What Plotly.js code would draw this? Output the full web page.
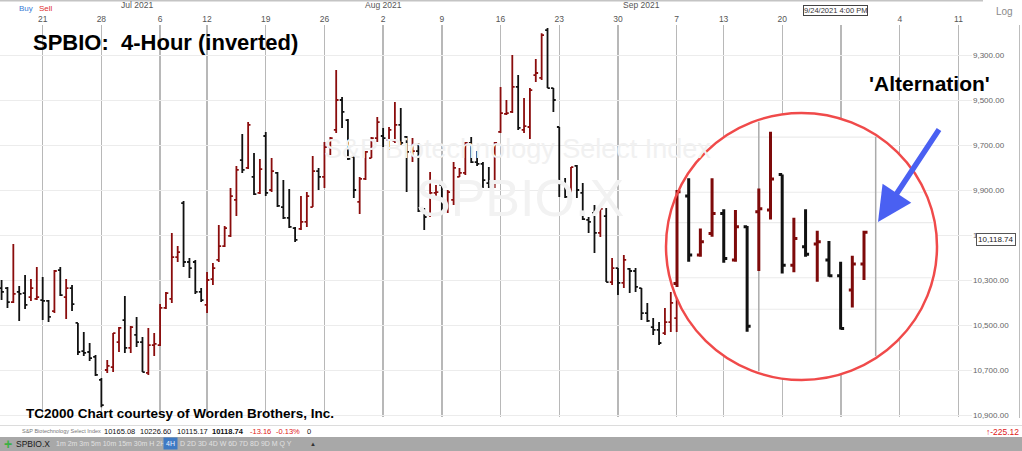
<!DOCTYPE html>
<html><head><meta charset="utf-8">
<script src="https://cdn.plot.ly/plotly-3.0.1.min.js"></script>
<style>html,body{margin:0;padding:0;background:#fff;}#chart{width:1022px;height:451px;}</style>
</head><body><div id="chart"></div>
<script>
// ---------------- data (inverted SPBIO, 4-hour bars) ----------------
// bar index 0 = first 4-hour bar of the week of Jun 21, 2021
const firstBarIndex = -7;
const mainOpen = [10336,10336,10398,10353,10358,10376,10384,10389,10393,10438,10256,10376,10336,10491,10616,10620,10642,10744,10700,10687,10576,10478,10602,10544,10576,10713,10589,10589,10424,10384,10198,9958,10220,10220,10353,10411,10296,10211,10149,10104,9944,9767,9802,9842,9913,9660,9900,9824,9976,10024,10069,10073,10042,9976,9816,9842,9709,9633,9500,9589,9753,9953,9851,9758,9669,9660,9678,9682,9611,9664,9731,9727,9989,10011,9913,9878,9953,9944,9842,9824,9691,9776,9784,9869,9887,9642,9562,9553,9442,9633,9620,9389,9402,9189,9447,9620,9873,9931,9793,9913,10033,10002,10091,10016,10309,10247,10313,10251,10260,10336,10447,10509,10522,10536,10487,10469];
const mainHigh = [10389,10424,10402,10482,10429,10393,10389,10478,10487,10447,10371,10473,10438,10633,10638,10660,10727,10865,10713,10709,10620,10624,10624,10598,10709,10722,10638,10593,10429,10402,10220,10242,10291,10362,10398,10447,10322,10220,10153,10109,10016,9824,9807,9922,9918,9927,9909,9976,10029,10069,10131,10078,10064,9976,9900,9891,9744,9647,9624,9767,9936,10007,9856,9758,9687,9709,9722,9691,9700,9909,9776,9998,10078,10020,9931,10011,10002,9967,9842,9833,9780,9793,9891,9891,9891,9647,9567,9558,9633,9647,9673,9420,9411,9447,9553,9931,9936,9936,9936,10033,10091,10180,10109,10309,10322,10367,10336,10358,10353,10478,10487,10544,10589,10544,10531,10531];
const mainLow = [10300,10331,10140,10327,10278,10296,10242,10287,10389,10256,10242,10296,10322,10491,10531,10580,10633,10736,10656,10536,10509,10371,10504,10464,10553,10513,10536,10407,10353,10091,10149,9949,10202,10211,10336,10264,10224,10056,10060,9891,9793,9651,9598,9736,9762,9642,9758,9820,9856,9896,10064,9927,9909,9749,9802,9687,9664,9367,9487,9584,9744,9842,9727,9664,9576,9624,9620,9509,9536,9660,9669,9691,9980,9820,9878,9864,9900,9776,9802,9687,9664,9727,9776,9798,9687,9442,9500,9300,9389,9491,9447,9318,9203,9180,9447,9620,9847,9798,9789,9869,10020,9967,9980,9980,10202,10247,10189,10247,10247,10336,10402,10469,10487,10424,10353,10353];
const mainClose = [10353,10398,10362,10362,10411,10336,10376,10393,10464,10260,10367,10336,10407,10620,10624,10647,10722,10856,10682,10536,10513,10602,10509,10576,10709,10589,10584,10424,10358,10198,10176,10220,10247,10353,10389,10300,10247,10149,10069,9927,9811,9811,9611,9918,9807,9913,9816,9971,10024,10064,10122,10042,9927,9816,9842,9709,9669,9500,9553,9762,9900,9851,9731,9669,9598,9669,9633,9611,9691,9731,9727,9993,10020,9913,9909,9953,9909,9802,9824,9691,9776,9784,9856,9887,9691,9558,9558,9442,9624,9616,9456,9380,9212,9447,9500,9873,9931,9798,9900,10029,10042,10091,9984,10309,10247,10313,10211,10260,10331,10447,10482,10522,10580,10487,10402,10389];

// magnified last bars shown inside the circle
const insetOpen  = [10316,9927,10189,10093,10004,10211,10063,9997,9989,9831,10234,10152,10140,10211,10281,10344,10229];
const insetHigh  = [10331,10219,10197,10108,10223,10219,10530,10260,10031,10271,10266,10197,10308,10285,10520,10422,10300];
const insetLow   = [9900,9848,10071,9848,9985,9989,10060,9893,9641,9831,10023,9985,10081,10127,10219,10192,10081];
const insetClose = [9908,10189,10130,10004,10204,10063,10505,9983,9851,10234,10115,10185,10130,10281,10515,10229,10088];
const insetWeekBars = [8, 18];
const insetGridPrices = [9665, 9910, 10045, 10290, 10430];

const weekTickIdx  = [0,10,20,28,38,48,58,68,78,88,98,108,116,126,136,146,156];
const weekTickText = ['21','28','6','12','19','26','2','9','16','23','30','7','13','20','','4','11'];
const monthIdx  = [16, 58, 102];
const monthText = ['Jul 2021','Aug 2021','Sep 2021'];
const priceTicks = [9300,9500,9700,9900,10100,10300,10500,10700,10900];
const lastPrice = 10118.74;
const lastBarIdx = 135;
const lastBarLabel = '9/24/2021 4:00 PM';
const statusName = 'S&amp;P Biotechnology Select Index';
const statusValues = ['10165.08','10226.60','10115.17','10118.74'];
const statusChange = ['-13.16','-0.13%'];
const tfBefore = '1m 2m 3m 5m 10m 15m 30m H 2H';
const tfActive = '4H';
const tfAfter = 'D 2D 3D 4D W 6D 7D 8D 9D M Q Y';
const netChange = '-225.12';

// ---------------- layout helpers (pixel geometry) ----------------
const PW = 972, PT = 25, PH = 392;
const X = px => px / PW;
const Y = py => (PT + PH - py) / PH;
const V = py => 9300 + (py - 55) * 200 / 45;
const K = px => 1 + (px - 677) / 11.6875;
const cx = 801.5, cy = 246.5, rx = 135.5, ry = 133.5;
const FONT = '"Liberation Sans", Arial, sans-serif';

const mainX = mainOpen.map((_, i) => i + firstBarIndex);
const insetX = insetOpen.map((_, i) => i + 1);

const traces = [
  {type:'ohlc', x: mainX, open: mainOpen, high: mainHigh, low: mainLow, close: mainClose,
   xaxis:'x', yaxis:'y', tickwidth:0.4, hoverinfo:'skip',
   increasing:{line:{color:'#111111', width:1.8}}, decreasing:{line:{color:'#8a0c0c', width:1.8}}},
  {type:'ohlc', x: insetX, open: insetOpen, high: insetHigh, low: insetLow, close: insetClose,
   xaxis:'x2', yaxis:'y2', tickwidth:0.3, hoverinfo:'skip',
   increasing:{line:{color:'#111111', width:3}}, decreasing:{line:{color:'#7e0a0a', width:3}}}
];

const shapes = [];
shapes.push({type:'circle', xref:'x2', yref:'y2', layer:'below',
  x0:K(cx-rx), x1:K(cx+rx), y0:V(cy-ry), y1:V(cy+ry), fillcolor:'#ffffff', line:{width:0}});
insetGridPrices.forEach(p => {
  const py = 55 + (p - 9300) * 45 / 200;
  const dx = rx * Math.sqrt(Math.max(0, 1 - ((py - cy) / ry) ** 2));
  shapes.push({type:'line', xref:'x2', yref:'y2', layer:'below', x0:K(cx-dx+2), x1:K(cx+dx-2), y0:p, y1:p,
    line:{color:'#ebebeb', width:1.2}});
});
insetWeekBars.forEach(k => {
  const px = 677 + (k - 1) * 11.6875;
  const dy = ry * Math.sqrt(Math.max(0, 1 - ((px - cx) / rx) ** 2));
  shapes.push({type:'line', xref:'x2', yref:'y2', layer:'below', x0:k, x1:k, y0:V(cy-dy+2), y1:V(cy+dy-2),
    line:{color:'#ababab', width:1.5}});
});
shapes.push({type:'circle', xref:'x2', yref:'y2', layer:'above',
  x0:K(cx-rx), x1:K(cx+rx), y0:V(cy-ry), y1:V(cy+ry), line:{color:'#f04a4a', width:2.5}});
shapes.push({type:'line', xref:'paper', yref:'paper', x0:X(0), x1:X(983), y0:Y(0.8), y1:Y(0.8), line:{color:'#c4c4c4', width:1.5}});
shapes.push({type:'line', xref:'paper', yref:'paper', x0:X(1019.5), x1:X(1019.5), y0:Y(25), y1:Y(418), line:{color:'#bdbdbd', width:1}});
shapes.push({type:'line', xref:'paper', yref:'paper', x0:X(0), x1:X(1022), y0:Y(425.5), y1:Y(425.5), line:{color:'#dcdcdc', width:1}});
shapes.push({type:'rect', xref:'paper', yref:'paper', x0:X(0), x1:X(1022), y0:Y(437), y1:Y(451), fillcolor:'#a8a8a8', line:{width:0}});

const ann = [];
const A = (o) => ann.push(Object.assign({xref:'paper', yref:'paper', showarrow:false, xanchor:'center', yanchor:'middle', font:{family:FONT}}, o));
// watermark
A({x:X(517), y:Y(149), text:'S&amp;P Biotechnology Select Index', font:{family:FONT, size:27, color:'#f1f1f1'}});
A({x:X(520), y:Y(198), text:'SPBIO.X', font:{family:FONT, size:52, color:'#f2f2f2'}});
// titles
A({x:X(31), y:Y(42), xanchor:'left', text:'<b>SPBIO:\u00a0 4-Hour (inverted)</b>', font:{family:FONT, size:22, color:'#000'}});
A({x:X(867), y:Y(84), xanchor:'left', text:"<b>'Alternation'</b>", font:{family:FONT, size:21, color:'#000'}});
A({x:X(24), y:Y(413), xanchor:'left', text:'<b>TC2000 Chart courtesy of Worden Brothers, Inc.</b>', font:{family:FONT, size:13.5, color:'#000'}});
// arrow
A({x:X(878), y:Y(222), ax:62, ay:-94, text:'', showarrow:true, arrowhead:2, arrowsize:1.25, arrowwidth:5.5, arrowcolor:'#4a60f2'});
// months
monthIdx.forEach((m, i) => ann.push({xref:'x', yref:'paper', x:m, y:Y(5), xanchor:'center', yanchor:'middle',
  text:monthText[i], showarrow:false, font:{family:FONT, size:8.5, color:'#555'}}));
// last bar date box
ann.push({xref:'x', yref:'paper', x:lastBarIdx, y:Y(10), xanchor:'center', yanchor:'middle', text:lastBarLabel,
  showarrow:false, bgcolor:'#fff', bordercolor:'#444', borderwidth:1, borderpad:0, font:{family:FONT, size:7.5, color:'#333'}});
// last price box
ann.push({xref:'paper', yref:'y', x:X(996), y:lastPrice, xanchor:'center', yanchor:'middle',
  text:lastPrice.toLocaleString('en-US',{minimumFractionDigits:2}),
  showarrow:false, bgcolor:'#fff', bordercolor:'#555', borderwidth:1, borderpad:1, font:{family:FONT, size:8, color:'#222'}});
// top left / right bits
A({x:X(17), y:Y(8), xanchor:'left', text:'Buy', font:{family:FONT, size:8, color:'#3a7bd5'}});
A({x:X(37), y:Y(8), xanchor:'left', text:'Sell', font:{family:FONT, size:8, color:'#e03030'}});
A({x:X(1005), y:Y(12), text:'Log', font:{family:FONT, size:10, color:'#8a8a8a'}});
// status line
A({x:X(20), y:Y(431), xanchor:'left', text:statusName, font:{family:FONT, size:5.5, color:'#777'}});
const sx = [102, 138, 175, 210];
statusValues.forEach((v, i) => A({x:X(sx[i]), y:Y(431), xanchor:'left', text: i === 3 ? '<b>' + v + '</b>' : v,
  font:{family:FONT, size:7.5, color:'#111'}}));
A({x:X(248), y:Y(431), xanchor:'left', text:statusChange[0], font:{family:FONT, size:7.5, color:'#e02020'}});
A({x:X(274), y:Y(431), xanchor:'left', text:statusChange[1], font:{family:FONT, size:7.5, color:'#e02020'}});
A({x:X(305), y:Y(431), xanchor:'left', text:'0', font:{family:FONT, size:7.5, color:'#111'}});
A({x:X(1021), y:Y(432), xanchor:'right', text:'<b>↑</b>' + netChange, font:{family:FONT, size:8.5, color:'#e02020'}});
// toolbar
A({x:X(2), y:Y(444), xanchor:'left', text:'<b>+</b>', font:{family:FONT, size:14, color:'#3cb043'}});
A({x:X(14), y:Y(444), xanchor:'left', text:'SPBIO.X', font:{family:FONT, size:8.5, color:'#1a1a1a'}});
A({x:X(54), y:Y(444), xanchor:'left', text:tfBefore, font:{family:FONT, size:7, color:'#e0e0e0'}});
A({x:X(170), y:Y(444), text:tfActive, bgcolor:'#3f7ac4', borderpad:2, font:{family:FONT, size:7, color:'#e8f0ff'}});
A({x:X(178), y:Y(444), xanchor:'left', text:tfAfter, font:{family:FONT, size:7, color:'#e0e0e0'}});
A({x:X(313), y:Y(444), text:'▲', font:{family:FONT, size:6, color:'#333'}});

const layout = {
  width:1022, height:451, margin:{l:0, r:50, t:PT, b:451-PT-PH}, paper_bgcolor:'#ffffff', plot_bgcolor:'rgba(0,0,0,0)',
  showlegend:false, hovermode:false, font:{family:FONT},
  xaxis:{domain:[0,1], range:[-7.27, 158.31], side:'top', tickmode:'array', tickvals:weekTickIdx, ticktext:weekTickText,
    tickfont:{family:FONT, size:8.5, color:'#555'}, showgrid:true, gridcolor:'#b8b8b8', gridwidth:1.4, zeroline:false,
    ticks:'', showline:false, rangeslider:{visible:false}, fixedrange:true},
  yaxis:{domain:[0,1], range:[V(PT+PH), V(PT)], side:'right', tickmode:'array', tickvals:priceTicks, tickformat:',.2f',
    tickfont:{family:FONT, size:8, color:'#666'}, showgrid:true, gridcolor:'#ececec', gridwidth:1, zeroline:false,
    ticks:'', showline:false, fixedrange:true},
  xaxis2:{domain:[X(660), X(945)], range:[K(660), K(945)], anchor:'y2', visible:false, rangeslider:{visible:false}, fixedrange:true},
  yaxis2:{domain:[0,1], range:[V(PT+PH), V(PT)], anchor:'x2', visible:false, fixedrange:true},
  shapes: shapes, annotations: ann
};
Plotly.newPlot('chart', traces, layout, {staticPlot:true, displayModeBar:false});
</script></body></html>
